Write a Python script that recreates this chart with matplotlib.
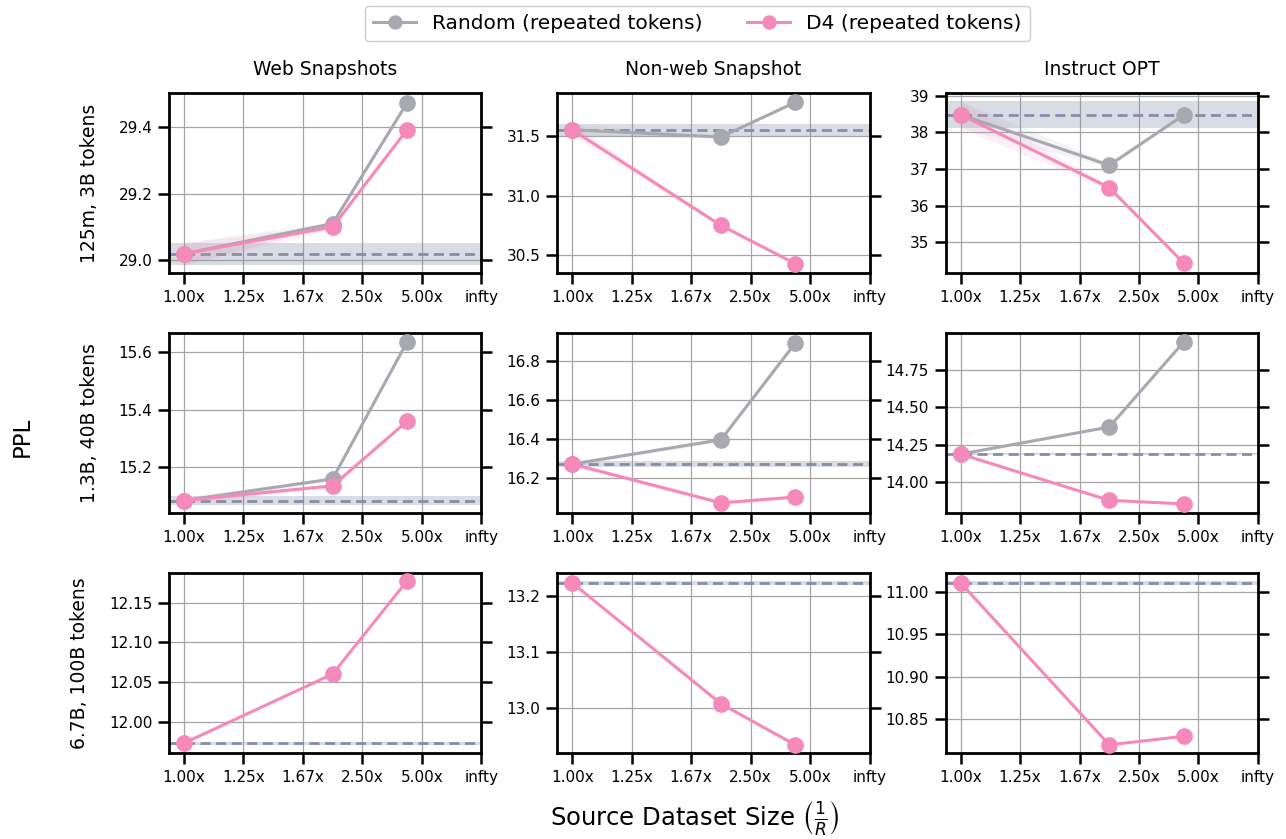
"""
PPL vs source dataset size, random vs D4 selection with repeated tokens.
3x3 grid: rows = model size, columns = eval set.
"""

import numpy as np
import matplotlib
matplotlib.use("Agg")
import matplotlib.pyplot as plt

# ---------------------------------------------------------------------------
# datos
# ---------------------------------------------------------------------------
x_ratio = [0.0, 0.5, 0.75]          # 1 - R
xtick_pos = [0.0, 0.2, 0.4, 0.6, 0.8, 1.0]
xtick_labels = ["1.00x", "1.25x", "1.67x", "2.50x", "5.00x", "infty"]

col_titles = ["Web Snapshots", "Non-web Snapshot", "Instruct OPT"]
row_labels = ["125m, 3B tokens", "1.3B, 40B tokens", "6.7B, 100B tokens"]

# 125m
random_125m = [[29.02, 29.11, 29.47],
               [31.55, 31.49, 31.78],
               [38.48, 37.10, 38.47]]
d4_125m = [[29.02, 29.10, 29.39],
           [31.55, 30.75, 30.43],
           [38.48, 36.49, 34.43]]
base_125m = [29.02, 31.55, 38.48]
base_std_125m = [0.033, 0.05, 0.37]
line_std_125m = [[0.033, 0.006, 0.006],
                 [0.05, 0.01, 0.01],
                 [0.37, 0.06, 0.05]]

# 1.3B
random_1_3b = [[15.085, 15.16, 15.635],
               [16.27, 16.395, 16.893],
               [14.188, 14.368, 14.934]]
d4_1_3b = [[15.085, 15.136, 15.36],
           [16.27, 16.07, 16.10],
           [14.188, 13.880, 13.856]]
base_1_3b = [15.085, 16.27, 14.188]
base_std_1_3b = [0.015, 0.015, 0.008]
line_std_1_3b = [[0.012, 0.006, 0.004],
                 [0.012, 0.01, 0.01],
                 [0.008, 0.006, 0.006]]

# 6.7B (solo D4)
d4_6_7b = [[11.973, 12.060, 12.177],
           [13.223, 13.008, 12.935],
           [11.0105, 10.820, 10.830]]
base_6_7b = [11.973, 13.223, 11.0105]
base_std_6_7b = [0.002, 0.003, 0.002]

rows = [
    (random_125m, d4_125m, base_125m, base_std_125m, line_std_125m),
    (random_1_3b, d4_1_3b, base_1_3b, base_std_1_3b, line_std_1_3b),
    (None, d4_6_7b, base_6_7b, base_std_6_7b, None),
]

c_random = "#a8a8b0"
c_d4 = "#f589b9"
c_base = "#878ca8"

plt.rcParams["font.family"] = "DejaVu Sans"

fig, axes = plt.subplots(3, 3, figsize=(12.86, 8.39), dpi=100)
fig.subplots_adjust(left=0.1314, right=0.9782, bottom=0.1025, top=0.8892,
                    wspace=0.2436, hspace=0.333)

xlim = (-0.05, 1.0)
x = np.array(x_ratio)

for i, (rnd, d4, base, base_std, line_std) in enumerate(rows):
    for j in range(3):
        ax = axes[i, j]

        # linea base (sin filtrado) con su banda
        xb = np.array(xlim)
        ax.fill_between(xb, base[j] - base_std[j], base[j] + base_std[j],
                        color=c_base, alpha=0.3, linewidth=0, zorder=1)
        ax.plot(xb, [base[j], base[j]], color=c_base, lw=2.0,
                dashes=(3.6, 2.0), zorder=2)

        if rnd is not None:
            r = np.array(rnd[j])
            s = np.array(line_std[j])
            ax.fill_between(x, r - s, r + s, color=c_random, alpha=0.12,
                            linewidth=0, zorder=2)
            ax.plot(x, r, color=c_random, marker="o", markersize=11,
                    lw=2.2, zorder=3, label="Random (repeated tokens)")

        d = np.array(d4[j])
        if line_std is not None:
            s = np.array(line_std[j])
            ax.fill_between(x, d - s, d + s, color=c_d4, alpha=0.12,
                            linewidth=0, zorder=2)
        ax.plot(x, d, color=c_d4, marker="o", markersize=11,
                lw=2.2, zorder=4, label="D4 (repeated tokens)")

        ax.set_xlim(*xlim)
        ax.set_xticks(xtick_pos)
        ax.set_xticklabels(xtick_labels)

        ax.grid(True, color="#a5a5a5", linewidth=0.9)
        ax.set_axisbelow(True)
        for sp in ax.spines.values():
            sp.set_linewidth(2.0)
            sp.set_color("black")
        ax.tick_params(axis="both", which="major", direction="out",
                       length=8, width=1.8, labelsize=11, pad=4)
        ax.tick_params(axis="y", right=True, labelright=False)

        if i == 0:
            ax.set_title(col_titles[j], fontsize=13.5, pad=13)
        if j == 0:
            ax.set_ylabel(row_labels[i], fontsize=13.5, labelpad=14)

# formato de los ticks y
axes[0, 0].set_yticks([29.0, 29.2, 29.4])
axes[0, 1].set_yticks([30.5, 31.0, 31.5])
axes[0, 2].set_yticks([35, 36, 37, 38, 39])
axes[1, 0].set_yticks([15.2, 15.4, 15.6])
axes[1, 1].set_yticks([16.2, 16.4, 16.6, 16.8])
axes[1, 2].set_yticks([14.0, 14.25, 14.5, 14.75])
axes[2, 0].set_yticks([12.0, 12.05, 12.1, 12.15])
axes[2, 1].set_yticks([13.0, 13.1, 13.2])
axes[2, 2].set_yticks([10.85, 10.9, 10.95, 11.0])

fmt = {(0, 0): "%.1f", (0, 1): "%.1f", (0, 2): "%.0f",
       (1, 0): "%.1f", (1, 1): "%.1f", (1, 2): "%.2f",
       (2, 0): "%.2f", (2, 1): "%.1f", (2, 2): "%.2f"}
for (i, j), f in fmt.items():
    axes[i, j].yaxis.set_major_formatter(matplotlib.ticker.FormatStrFormatter(f))

fig.text(22 / 1286, 1 - 437 / 839, "PPL", rotation=90, fontsize=16.5,
         ha="center", va="center")
fig.text(695 / 1286, 1 - 818 / 839,
         r"Source Dataset Size $\left(\frac{1}{R}\right)$",
         fontsize=17.5, ha="center", va="center")

handles, labels = axes[0, 0].get_legend_handles_labels()
fig.legend(handles, labels, loc="upper center", bbox_to_anchor=(0.5424, 0.996),
           ncol=2, fontsize=14.5, borderaxespad=0.15, framealpha=1.0,
           edgecolor="#cccccc", handlelength=2.14, columnspacing=2.2,
           markerscale=0.85)

fig.savefig("out.png", dpi=100)
print("ok")
